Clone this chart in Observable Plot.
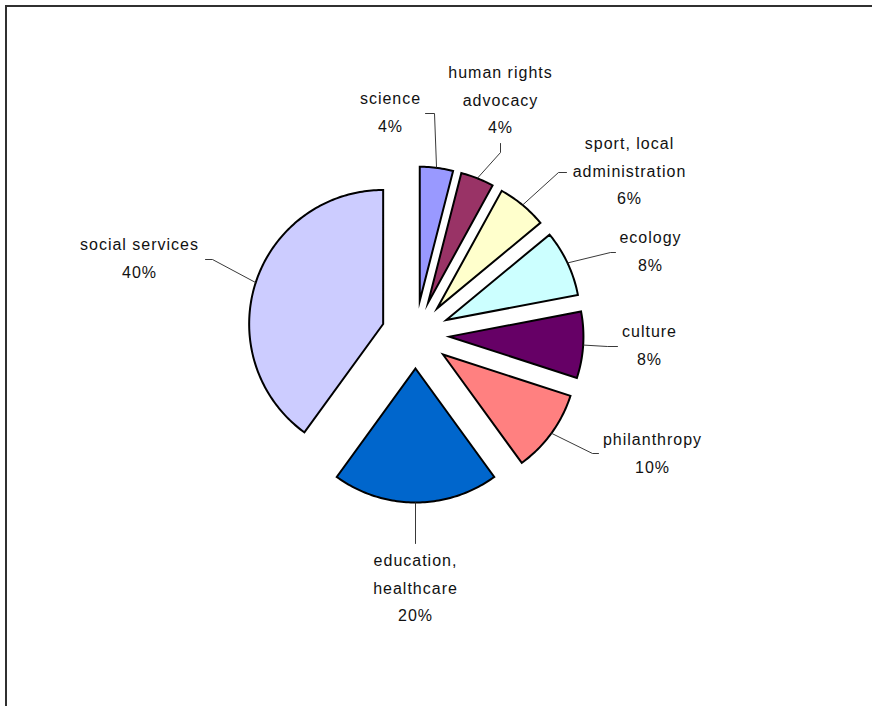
<!DOCTYPE html>
<html>
<head>
<meta charset="utf-8">
<script src="https://cdn.jsdelivr.net/npm/d3@7"></script>
<script src="https://cdn.jsdelivr.net/npm/@observablehq/plot@0.6"></script>
<style>
  html, body { margin: 0; padding: 0; background: #fff; overflow: hidden; }
  #chart { position: relative; width: 872px; height: 706px; overflow: hidden; }
  #chart svg { display: block; position: absolute; left: 0; top: 0; }
  #chart .border { position: absolute; left: 5px; top: 5px; width: 900px; height: 740px;
    border-top: 2px solid #303030; border-left: 2px solid #303030; pointer-events: none; }
</style>
</head>
<body>
<div id="chart"><div class="border"></div></div>
<script>
// ---- data ----
const categories = ["science", "human rights\nadvocacy", "sport, local\nadministration", "ecology", "culture", "philanthropy", "education,\nhealthcare", "social services"];
const shares = [4, 4, 6, 8, 8, 10, 20, 40];
const colors = ["#9999FF", "#993366", "#FFFFCC", "#CCFFFF", "#660066", "#FF8080", "#0066CC", "#CCCCFF"];

// ---- layout (pixels) ----
const W = 872, H = 706;
const cx = 415, cy = 334, R = 134, explode = 34;
// label block centre and leader-line bend points
const labelLayout = [
  {lx: 390, ly: 108.5, bend: [[434, 113], [425, 113]]},
  {lx: 500, ly: 96.5, bend: [[500, 152], [500, 143]]},
  {lx: 629, ly: 167.5, bend: [[558, 172], [566, 172]]},
  {lx: 650, ly: 247.5, bend: [[610, 252], [615, 252]]},
  {lx: 649, ly: 341.5, bend: [[607, 346], [617, 346]]},
  {lx: 652, ly: 449.5, bend: [[592, 453], [598, 453]]},
  {lx: 415, ly: 584.5, bend: [[415, 543]]},
  {lx: 139, ly: 254.5, bend: [[212, 259], [205, 259]]}
];

const total = d3.sum(shares);
const pie = d3.pie().sort(null).value(d => d)(shares);

const slices = [];
const leaders = [];
const labels = [];
pie.forEach((p, i) => {
  const a0 = p.startAngle, a1 = p.endAngle, am = (a0 + a1) / 2;
  const ox = cx + explode * Math.sin(am), oy = cy - explode * Math.cos(am);
  const pts = [{x: ox, y: oy}];
  const n = Math.max(4, Math.ceil((a1 - a0) / (Math.PI / 180)));
  for (let k = 0; k <= n; k++) {
    const a = a0 + (a1 - a0) * k / n;
    pts.push({x: ox + R * Math.sin(a), y: oy - R * Math.cos(a)});
  }
  slices.push({color: colors[i], pts});
  const mx = ox + R * Math.sin(am), my = oy - R * Math.cos(am);
  const L = labelLayout[i];
  leaders.push({i, x: mx, y: my});
  L.bend.forEach(([bx, by]) => leaders.push({i, x: bx, y: by}));
  labels.push({x: L.lx, y: L.ly, text: `${categories[i]}\n${Math.round(shares[i] / total * 100)}%`});
});

const marks = [
  ...slices.map(s => Plot.line(s.pts, {
    x: "x", y: "y", curve: "linear-closed",
    fill: s.color, stroke: "#000", strokeWidth: 2, strokeLinejoin: "miter", strokeMiterlimit: 10
  })),
  Plot.line(leaders, {x: "x", y: "y", z: "i", stroke: "#222", strokeWidth: 0.9}),
  Plot.text(labels, {
    x: "x", y: "y", text: "text", textAnchor: "middle", lineAnchor: "middle",
    lineHeight: 1.72, fontSize: 16, fill: "#111"
  })
];

const chart = Plot.plot({
  width: W, height: H,
  margin: 0,
  x: {domain: [0, W], range: [0, W], axis: null},
  y: {domain: [0, H], range: [0, H], axis: null},
  style: {fontFamily: "'Liberation Sans', Arial, sans-serif", letterSpacing: "1px", background: "transparent"},
  marks
});
document.getElementById("chart").appendChild(chart);
</script>
</body>
</html>
